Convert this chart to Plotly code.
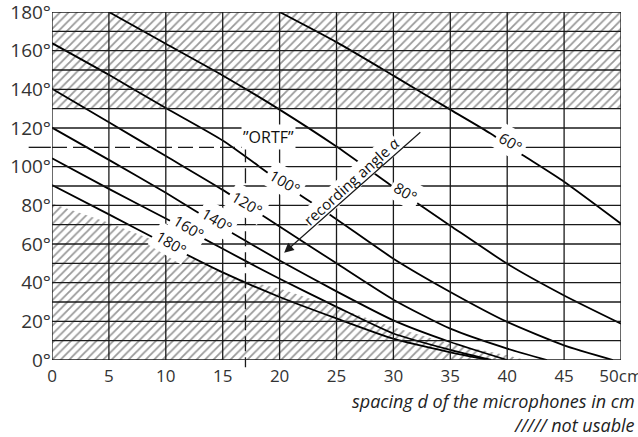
import plotly.graph_objects as go

# ---------------- data ----------------
x_ticks = [0, 5, 10, 15, 20, 25, 30, 35, 40, 45, 50]
x_tick_text = ["0", "5", "10", "15", "20", "25", "30", "35", "40", "45", "50cm"]
y_ticks = [0, 20, 40, 60, 80, 100, 120, 140, 160, 180]
y_tick_text = ["0°", "20°", "40°", "60°", "80°", "100°", "120°", "140°", "160°", "180°"]

# recording-angle curves: spacing d (cm) -> microphone angle (deg)
c60_x = [20, 25, 30, 35, 38.5, 41.5, 45, 50]
c60_y = [180, 164.4, 147.1, 129.5, 117.3, 105.5, 92.2, 70.5]
c80_x = [5, 10, 15, 20, 25, 30, 35, 40, 45, 50]
c80_y = [180, 163.6, 147.2, 129.5, 110.4, 89.5, 69.5, 49.8, 33.4, 18.8]
c100_x = [0, 5, 10, 15, 20, 25, 30, 35, 40, 45, 49.3]
c100_y = [163.9, 147.5, 130.3, 113.5, 92.5, 72.8, 52.4, 35.2, 19.7, 7.6, 0]
c120_x = [0, 5, 10, 15, 20, 25, 30, 35, 40, 43.5]
c120_y = [140.3, 123, 105.5, 88, 69, 50, 31.2, 16.2, 5.9, 0]
c140_x = [0, 5, 10, 15, 20, 25, 30, 35, 40]
c140_y = [120.2, 103.5, 86.5, 68.5, 51.5, 35.5, 20.5, 9.3, 0]
c160_x = [0, 5, 10, 15, 20, 25, 30, 35, 38.6]
c160_y = [104.3, 88.5, 73.2, 57.5, 42, 27.5, 13.7, 5.2, 0]
c180_x = [0, 5, 10, 15, 20, 25, 30, 35, 38.4]
c180_y = [90.5, 75.3, 60, 45.3, 32.6, 21.5, 11, 4.0, 0]

curves = [
    ("60°", c60_x, c60_y, 40.3, 112.8),
    ("80°", c80_x, c80_y, 31.1, 87),
    ("100°", c100_x, c100_y, 20.5, 92.2),
    ("120°", c120_x, c120_y, 17.1, 81),
    ("140°", c140_x, c140_y, 14.5, 72.4),
    ("160°", c160_x, c160_y, 12.0, 68.9),
    ("180°", c180_x, c180_y, 10.5, 60.3),
]

# not-usable regions
top_hatch_x = [0, 50, 50, 0, 0]
top_hatch_y = [130, 130, 180, 180, 130]
bot_hatch_x = [0, 5, 10, 15, 17, 20, 25, 30, 35, 40, 41.6, 0, 0]
bot_hatch_y = [81, 71, 59.5, 45, 41, 37, 27.2, 17, 8.4, 2.4, 0, 0, 81]

ortf_d = 17
ortf_angle = 110
arrow_tip = (20.4, 55.5)
arrow_tail = (32.5, 118.5)

FONT = "Open Sans"
INK = "#1a1a1a"

fig = go.Figure()

hatch = dict(shape="/", size=6, solidity=0.3, fgcolor="#333333", bgcolor="white")
fig.add_trace(go.Scatter(x=top_hatch_x, y=top_hatch_y, mode="lines", fill="toself",
                         fillpattern=hatch, line=dict(width=0), hoverinfo="skip",
                         showlegend=False))
fig.add_trace(go.Scatter(x=bot_hatch_x, y=bot_hatch_y, mode="lines", fill="toself",
                         fillpattern=hatch, line=dict(width=0), hoverinfo="skip",
                         showlegend=False))

for name, cx, cy, lx, ly in curves:
    fig.add_trace(go.Scatter(x=cx, y=cy, mode="lines", line=dict(color="black", width=1.8,
                             shape="spline", smoothing=0.6), showlegend=False, name=name))

shapes = []
for xv in x_ticks:
    shapes.append(dict(type="line", xref="x", yref="y", x0=xv, x1=xv, y0=0, y1=180,
                       line=dict(color=INK, width=1.3), layer="above"))
for yv in range(0, 190, 10):
    x_start = ortf_d if yv == ortf_angle else 0
    shapes.append(dict(type="line", xref="x", yref="y", x0=x_start, x1=50, y0=yv, y1=yv,
                       line=dict(color=INK, width=1.3), layer="above"))
shapes.append(dict(type="line", xref="paper", yref="y", x0=-0.041, x1=-0.002,
                   y0=ortf_angle, y1=ortf_angle, line=dict(color=INK, width=1.3)))
shapes.append(dict(type="line", xref="paper", yref="y", x0=0, x1=ortf_d / 50.0,
                   y0=ortf_angle, y1=ortf_angle, line=dict(color=INK, width=1.3, dash="15px,6px")))
shapes.append(dict(type="line", xref="x", yref="paper", x0=ortf_d, x1=ortf_d,
                   y0=ortf_angle / 180.0, y1=-0.021, line=dict(color=INK, width=1.3, dash="15px,6px")))
fig.update_layout(shapes=shapes)

ann = []
for name, cx, cy, lx, ly in curves:
    ann.append(dict(x=lx, y=ly, xref="x", yref="y", text=name, showarrow=False,
                    textangle=31, bgcolor="white", borderpad=3,
                    font=dict(family=FONT, size=15, color="#111")))
ann.append(dict(x=19.0, y=115.2, xref="x", yref="y", text="\u201dORTF\u201d", showarrow=False,
                bgcolor="white", borderpad=1, font=dict(family=FONT, size=16, color="#111")))
ann.append(dict(x=26.3, y=92.7, xref="x", yref="y", text="recording angle <i>α</i>",
                showarrow=False, textangle=-42, bgcolor="white", borderpad=0,
                font=dict(family=FONT, size=15, color="#111")))
ann.append(dict(x=arrow_tip[0], y=arrow_tip[1], ax=arrow_tail[0], ay=arrow_tail[1],
                xref="x", yref="y", axref="x", ayref="y", text="", showarrow=True,
                arrowhead=2, arrowsize=1.6, arrowwidth=1.2, arrowcolor=INK))
ann.append(dict(x=1.0287, y=-0.117, xref="paper", yref="paper", xanchor="right", yanchor="middle",
                text="<i>spacing d of the microphones in cm</i>", showarrow=False,
                font=dict(family=FONT, size=18, color="#222")))
ann.append(dict(x=1.0287, y=-0.186, xref="paper", yref="paper", xanchor="right", yanchor="middle",
                text="<i>///// not usable</i>", showarrow=False,
                font=dict(family=FONT, size=18, color="#222")))
fig.update_layout(annotations=ann)

fig.update_xaxes(range=[0, 50], tickvals=x_ticks, ticktext=x_tick_text, showgrid=False,
                 zeroline=False, showline=False, ticks="", automargin=False,
                 ticklabeloverflow="allow", ticklabelstandoff=4,
                 tickfont=dict(family=FONT, size=17, color="#333"))
fig.update_yaxes(range=[0, 180], tickvals=y_ticks, ticktext=y_tick_text, showgrid=False,
                 zeroline=False, showline=False, ticks="", automargin=False,
                 ticklabeloverflow="allow",
                 tickfont=dict(family=FONT, size=19, color="#333"))
fig.update_layout(width=638, height=437, margin=dict(l=52, r=17, t=12, b=77),
                  plot_bgcolor="white", paper_bgcolor="white")

fig.write_html("out.html", config={"displayModeBar": False},
               post_script="document.body.style.margin='0';document.body.style.overflow='hidden';")
